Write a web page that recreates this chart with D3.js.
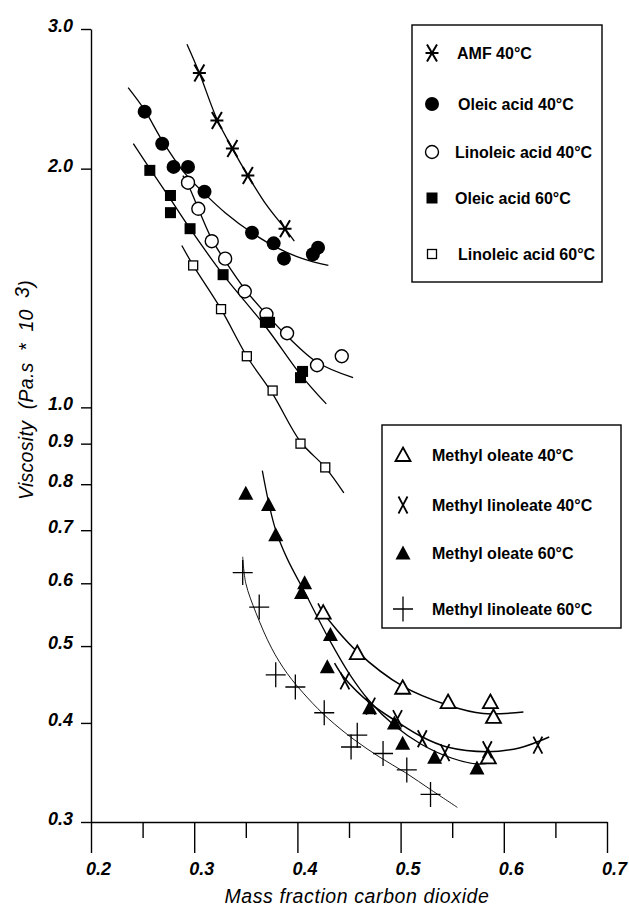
<!DOCTYPE html>
<html><head><meta charset="utf-8">
<script src="https://cdn.jsdelivr.net/npm/d3@7"></script>
<style>body{margin:0;background:#fff}svg{display:block}</style>
</head><body><svg id="c" width="629" height="906"></svg>
<script>
// ---------- data ----------
const yTicks = [0.3, 0.4, 0.5, 0.6, 0.7, 0.8, 0.9, 1.0, 2.0, 3.0];
const xTicks = [0.2, 0.3, 0.4, 0.5, 0.6, 0.7];
const xMinorTicks = [0.25, 0.35, 0.45, 0.55, 0.65];

const legend1Labels = ["AMF 40°C", "Oleic acid 40°C", "Linoleic acid 40°C", "Oleic acid 60°C", "Linoleic acid 60°C"];
const legend2Labels = ["Methyl oleate 40°C", "Methyl linoleate 40°C", "Methyl oleate 60°C", "Methyl linoleate 60°C"];

// measured points [mass fraction CO2, viscosity]
const amf40 = [[0.305,2.64],[0.322,2.30],[0.337,2.12],[0.352,1.96],[0.388,1.68]];
const oleic40 = [[0.252,2.36],[0.269,2.15],[0.280,2.01],[0.294,2.01],[0.310,1.87],[0.356,1.66],[0.377,1.61],[0.387,1.54],[0.415,1.56],[0.420,1.59]];
const linoleic40 = [[0.294,1.92],[0.304,1.78],[0.317,1.62],[0.330,1.54],[0.349,1.40],[0.370,1.31],[0.390,1.24],[0.419,1.13],[0.443,1.16]];
const oleic60 = [[0.257,1.99],[0.277,1.85],[0.277,1.76],[0.296,1.68],[0.328,1.47],[0.369,1.28],[0.373,1.28],[0.403,1.09],[0.405,1.11]];
const linoleic60 = [[0.299,1.51],[0.326,1.33],[0.351,1.16],[0.376,1.05],[0.403,0.90],[0.427,0.84]];
const mOleate40 = [[0.425,0.551],[0.458,0.490],[0.502,0.443],[0.546,0.425],[0.587,0.425],[0.590,0.407],[0.585,0.362]];
const mLinoleate40 = [[0.446,0.452],[0.471,0.420],[0.497,0.405],[0.521,0.382],[0.543,0.367],[0.584,0.370],[0.633,0.375]];
const mOleate60 = [[0.350,0.779],[0.372,0.754],[0.379,0.691],[0.407,0.601],[0.404,0.584],[0.432,0.517],[0.429,0.471],[0.470,0.418],[0.494,0.400],[0.502,0.377],[0.533,0.362],[0.574,0.351]];
const mLinoleate60 = [[0.347,0.619],[0.363,0.560],[0.379,0.460],[0.398,0.444],[0.426,0.412],[0.452,0.373],[0.458,0.386],[0.483,0.366],[0.506,0.349],[0.529,0.325]];

// fitted curves
const amf40Curve = [[0.293,2.87],[0.305,2.64],[0.322,2.31],[0.337,2.12],[0.352,1.96],[0.370,1.80],[0.388,1.68],[0.397,1.62]];
const oleic40Curve = [[0.236,2.53],[0.252,2.37],[0.269,2.17],[0.290,1.98],[0.310,1.86],[0.330,1.76],[0.356,1.66],[0.380,1.59],[0.405,1.54],[0.430,1.51]];
const linoleic40Curve = [[0.289,1.96],[0.294,1.91],[0.304,1.78],[0.317,1.63],[0.330,1.53],[0.349,1.41],[0.370,1.31],[0.390,1.23],[0.419,1.14],[0.454,1.09]];
const oleic60Curve = [[0.241,2.15],[0.257,2.00],[0.277,1.83],[0.296,1.68],[0.328,1.47],[0.370,1.26],[0.403,1.10],[0.428,1.01]];
const linoleic60Curve = [[0.288,1.60],[0.299,1.51],[0.326,1.33],[0.351,1.16],[0.376,1.04],[0.403,0.905],[0.427,0.84],[0.445,0.78]];
const mOleate40Curve = [[0.420,0.566],[0.425,0.551],[0.458,0.492],[0.502,0.445],[0.546,0.421],[0.580,0.411],[0.619,0.413]];
const mLinoleate40Curve = [[0.436,0.476],[0.446,0.455],[0.471,0.423],[0.497,0.401],[0.521,0.384],[0.545,0.373],[0.584,0.368],[0.615,0.372],[0.644,0.384]];
const mOleate60Curve = [[0.366,0.832],[0.372,0.760],[0.379,0.700],[0.390,0.645],[0.407,0.585],[0.430,0.512],[0.450,0.462],[0.470,0.426],[0.494,0.397],[0.520,0.376],[0.550,0.361],[0.575,0.355],[0.590,0.357]];
const mLinoleate60Curve = [[0.347,0.648],[0.350,0.600],[0.360,0.550],[0.375,0.497],[0.390,0.462],[0.410,0.430],[0.430,0.405],[0.455,0.381],[0.480,0.362],[0.505,0.346],[0.530,0.329],[0.555,0.313]];

// ---------- drawing ----------
const svg = d3.select("#c");
const FONT = "Liberation Sans, Arial, Helvetica, sans-serif";
const x = d3.scaleLinear().domain([0.2, 0.7]).range([91, 607]);
const y = d3.scaleLog().domain([0.3, 3.0]).range([822, 29]);

const series = [
  {pts: amf40, curve: amf40Curve, sym: "star", w: 1.3},
  {pts: oleic40, curve: oleic40Curve, sym: "dot", w: 1.3},
  {pts: linoleic40, curve: linoleic40Curve, sym: "circle", w: 1.3},
  {pts: oleic60, curve: oleic60Curve, sym: "square", w: 1.3},
  {pts: linoleic60, curve: linoleic60Curve, sym: "osquare", w: 1.3},
  {pts: mOleate40, curve: mOleate40Curve, sym: "otri", w: 1.5},
  {pts: mLinoleate40, curve: mLinoleate40Curve, sym: "x", w: 1.5},
  {pts: mOleate60, curve: mOleate60Curve, sym: "tri", w: 1.3},
  {pts: mLinoleate60, curve: mLinoleate60Curve, sym: "plus", w: 0.9}
];

function marker(g, sym) {
  const s = "#000";
  switch (sym) {
    case "star":
      g.append("path").attr("d", "M-5,-8.5L5,8.5M5,-8.5L-5,8.5M-6.5,0L6.5,0").attr("stroke", s).attr("stroke-width", 2).attr("fill", "none");
      break;
    case "dot":
      g.append("circle").attr("r", 7).attr("fill", s);
      break;
    case "circle":
      g.append("circle").attr("r", 6.5).attr("fill", "#fff").attr("stroke", s).attr("stroke-width", 1.4);
      break;
    case "square":
      g.append("rect").attr("x", -5.5).attr("y", -5.5).attr("width", 11).attr("height", 11).attr("fill", s);
      break;
    case "osquare":
      g.append("rect").attr("x", -4.5).attr("y", -4.5).attr("width", 9).attr("height", 9).attr("fill", "#fff").attr("stroke", s).attr("stroke-width", 1.3);
      break;
    case "otri":
      g.append("path").attr("d", "M0,-7.5L7.5,6L-7.5,6Z").attr("fill", "#fff").attr("stroke", s).attr("stroke-width", 1.8);
      break;
    case "x":
      g.append("path").attr("d", "M-4.5,-8.5L4.5,8.5M4.5,-8.5L-4.5,8.5").attr("stroke", s).attr("stroke-width", 1.8).attr("fill", "none");
      break;
    case "tri":
      g.append("path").attr("d", "M0,-7.5L7.5,6.5L-7.5,6.5Z").attr("fill", s);
      break;
    case "plus":
      g.append("path").attr("d", "M0,-12.5L0,12.5M-10,0L10,0").attr("stroke", s).attr("stroke-width", 1.3).attr("fill", "none");
      break;
  }
}

// axes
const yAxis = d3.axisLeft(y).tickValues(yTicks).tickFormat(d3.format(".1f")).tickSize(10).tickSizeOuter(0).tickPadding(8);
const gy = svg.append("g").attr("transform", "translate(91,0)").call(yAxis);
gy.selectAll("text").attr("font-family", FONT).attr("font-size", 18)
  .attr("font-style", "italic").attr("font-weight", "bold").attr("fill", "#000").attr("dy", "0.14em");
gy.selectAll("line,path").attr("stroke", "#000").attr("stroke-width", 1.4);

const xAxis = d3.axisBottom(x).tickValues(xTicks).tickFormat(d3.format(".1f")).tickSize(31).tickSizeOuter(0).tickPadding(9);
const gx = svg.append("g").attr("transform", "translate(0,822)").call(xAxis);
gx.selectAll("text").attr("font-family", FONT).attr("font-size", 18)
  .attr("font-style", "italic").attr("font-weight", "bold").attr("fill", "#000").attr("dx", 7);
gx.selectAll("line,path").attr("stroke", "#000").attr("stroke-width", 1.4);
const xMinor = d3.axisBottom(x).tickValues(xMinorTicks).tickFormat("").tickSize(16).tickSizeOuter(0);
const gxm = svg.append("g").attr("transform", "translate(0,822)").call(xMinor);
gxm.select("path").remove();
gxm.selectAll("line").attr("stroke", "#000").attr("stroke-width", 1.4);

// axis titles
svg.append("text").attr("x", 357).attr("y", 903).attr("text-anchor", "middle")
  .attr("font-family", FONT).attr("font-size", 19.5).attr("font-style", "italic").attr("letter-spacing", 0.6)
  .text("Mass fraction carbon dioxide");
const yt = svg.append("text").attr("transform", "translate(33,390) rotate(-90)").attr("text-anchor", "middle")
  .attr("font-family", FONT).attr("font-size", 19.5).attr("font-style", "italic").attr("letter-spacing", 0.3)
  .attr("xml:space", "preserve");
yt.append("tspan").text("Viscosity  (Pa.s  *  10  ");
yt.append("tspan").attr("dy", -4).text("3");
yt.append("tspan").attr("dy", 4).text(")");

// curves
const line = d3.line().x(d => x(d[0])).y(d => y(d[1])).curve(d3.curveCatmullRom.alpha(0.5));
series.forEach(s => {
  svg.append("path").datum(s.curve).attr("d", line).attr("fill", "none").attr("stroke", "#000").attr("stroke-width", s.w);
});
// markers
series.forEach(s => {
  s.pts.forEach(p => {
    const g = svg.append("g").attr("transform", `translate(${x(p[0])},${y(p[1])})`);
    marker(g, s.sym);
  });
});

// legends
function legend(box, labels, syms, rowsY, symX, textX) {
  svg.append("rect").attr("x", box[0]).attr("y", box[1]).attr("width", box[2]).attr("height", box[3])
    .attr("fill", "#fff").attr("stroke", "#000").attr("stroke-width", 1.4);
  labels.forEach((l, i) => {
    const g = svg.append("g").attr("transform", `translate(${symX},${rowsY[i]})`);
    marker(g, syms[i]);
    svg.append("text").attr("x", textX[i]).attr("y", rowsY[i]).attr("dy", "0.36em")
      .attr("font-family", FONT).attr("font-size", 16).attr("font-weight", "bold")
      .text(l);
  });
}
legend([412, 25, 190, 257], legend1Labels, ["star","dot","circle","square","osquare"],
  [53, 104, 152, 198, 254], 432, [457, 458, 455, 455, 458]);
legend([382, 425, 239, 203], legend2Labels, ["otri","x","tri","plus"],
  [455, 505, 553, 609], 403, [432, 432, 432, 432]);
</script></body></html>
